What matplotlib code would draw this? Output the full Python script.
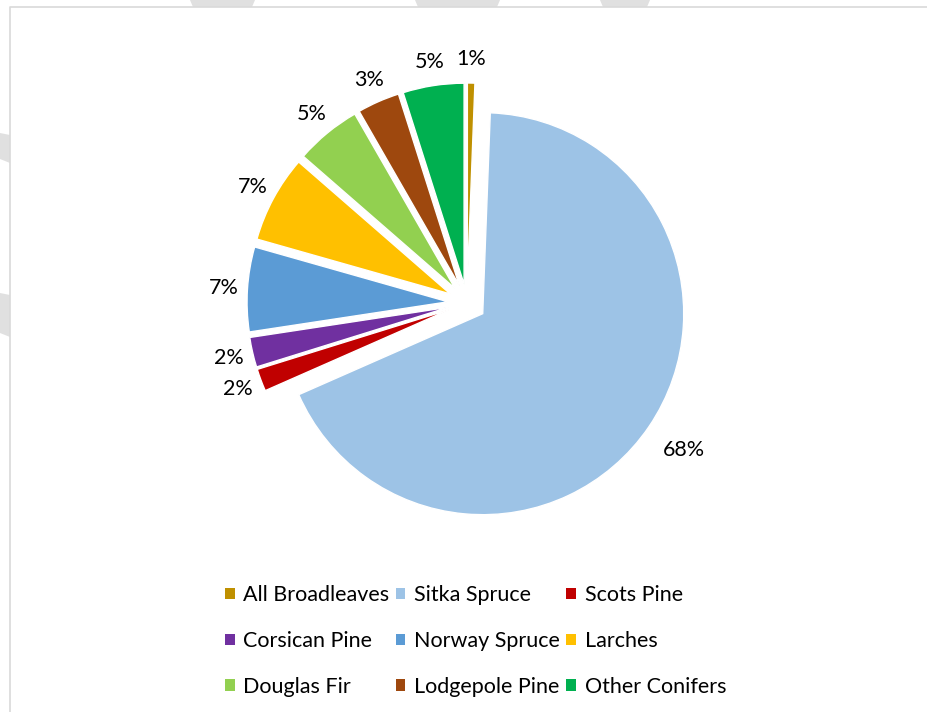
import matplotlib.pyplot as plt
from matplotlib.patches import Patch, Polygon
import numpy as np

# species shares (%)
species = ["All Broadleaves", "Sitka Spruce", "Scots Pine", "Corsican Pine",
           "Norway Spruce", "Larches", "Douglas Fir", "Lodgepole Pine", "Other Conifers"]
shares = [0.6, 67.8, 1.8, 2.4, 6.8, 7.0, 5.3, 3.4, 4.9]
colors = ["#BF9000", "#9DC3E6", "#C00000", "#7030A0",
          "#5B9BD5", "#FFC000", "#92D050", "#9E480E", "#00B050"]

plt.rcParams['font.family'] = ['Lato', 'DejaVu Sans']

W, H = 927, 712
fig = plt.figure(figsize=(W / 100, H / 100), dpi=100)
ax = fig.add_axes([0, 0, 1, 1])

R = 201
wedges, _ = ax.pie(shares, colors=colors, startangle=90, counterclock=False,
                   explode=[19] * len(shares), radius=R, center=(467, H - 303),
                   wedgeprops=dict(edgecolor='white', linewidth=1))

total = sum(shares)
for i, (w, v) in enumerate(zip(wedges, shares)):
    th = np.deg2rad((w.theta1 + w.theta2) / 2)
    dist = 1.21 if i == 1 else 1.12
    cx, cy = w.center
    ax.text(cx + dist * R * np.cos(th), cy + dist * R * np.sin(th),
            "%.0f%%" % (100 * v / total), ha='center', va='center', fontsize=15.5)

ax.set_xlim(0, W)
ax.set_ylim(0, H)
ax.set_aspect('auto')
ax.axis('off')

# faint watermark bits outside the chart border
gray = '#e0e0e0'
for xs in [(190, 255), (415, 500), (600, 650)]:
    ax.add_patch(Polygon([(xs[0], H), (xs[1], H), (xs[1] - 3, H - 7), (xs[0] + 3, H - 7)],
                         closed=True, facecolor=gray, edgecolor='none', clip_on=False))
for ys in [(133, 163), (293, 337)]:
    ax.add_patch(Polygon([(0, H - ys[0]), (10, H - ys[0] - 2), (10, H - ys[1]), (0, H - ys[1] + 4)],
                         closed=True, facecolor=gray, edgecolor='none', clip_on=False))
# chart area border
ax.plot([10, 10, W], [0, H - 7, H - 7], color='#d9d9d9', lw=1.2, clip_on=False)

# legend, filled row by row like the original
order = [0, 3, 6, 1, 4, 7, 2, 5, 8]
handles = [Patch(facecolor=colors[i]) for i in order]
labels = [species[i] for i in order]
fig.legend(handles, labels, ncol=3, loc='center', bbox_to_anchor=(0.513, 0.0997),
           frameon=False, fontsize=15.5, handlelength=0.45, handleheight=0.45,
           handletextpad=0.4, columnspacing=0.3, labelspacing=1.2)

fig.savefig("out.png", dpi=100, facecolor='white')
